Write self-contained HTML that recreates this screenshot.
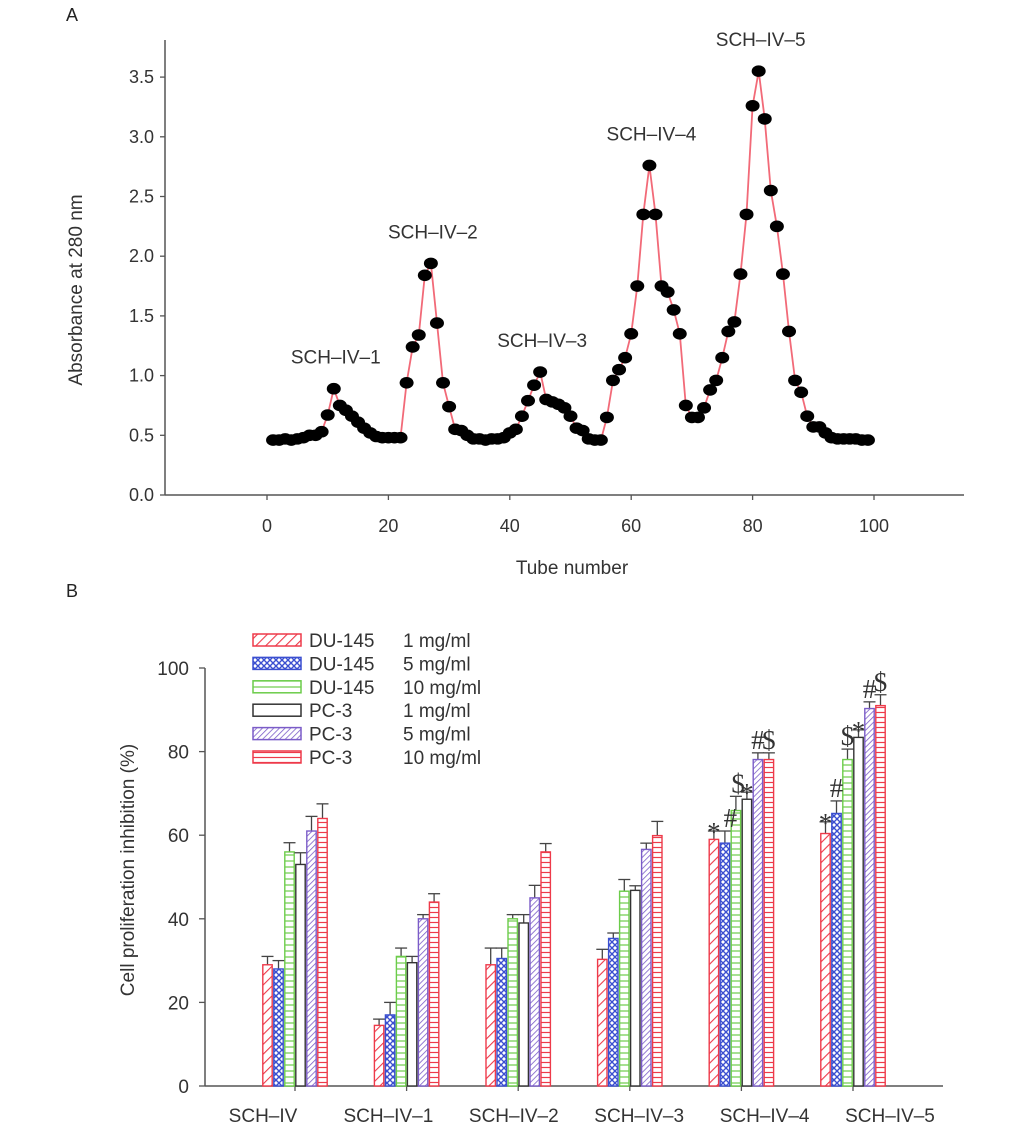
<!DOCTYPE html>
<html><head><meta charset="utf-8">
<style>
html,body{margin:0;padding:0;background:#fff;}
svg{display:block;font-family:"Liberation Sans",Arial,sans-serif;}
</style></head>
<body>
<svg id="fig" width="1033" height="1136" viewBox="0 0 1033 1136" xmlns="http://www.w3.org/2000/svg">
<defs>
<pattern id="p-red-diag" patternUnits="userSpaceOnUse" width="7" height="7" patternTransform="rotate(45)"><rect width="7" height="7" fill="#fff"/><line x1="0" y1="0" x2="0" y2="7" stroke="#ee3a4a" stroke-width="2.2"/></pattern>
<pattern id="p-blue-cross" patternUnits="userSpaceOnUse" width="6" height="6"><rect width="6" height="6" fill="#fff"/><path d="M0 0L6 6M6 0L0 6" stroke="#3a4fd0" stroke-width="1.4"/></pattern>
<pattern id="p-green-h" patternUnits="userSpaceOnUse" width="6" height="6"><rect width="6" height="6" fill="#fff"/><line x1="0" y1="3" x2="6" y2="3" stroke="#6ccc4a" stroke-width="1.2"/></pattern>
<pattern id="p-gray" patternUnits="userSpaceOnUse" width="6" height="6"><rect width="6" height="6" fill="#fff"/></pattern>
<pattern id="p-purple-diag" patternUnits="userSpaceOnUse" width="4" height="4" patternTransform="rotate(45)"><rect width="4" height="4" fill="#fff"/><line x1="0" y1="0" x2="0" y2="4" stroke="#7b5cc8" stroke-width="1.6"/></pattern>
<pattern id="p-red-h" patternUnits="userSpaceOnUse" width="5" height="5"><rect width="5" height="5" fill="#fff"/><line x1="0" y1="2.5" x2="5" y2="2.5" stroke="#ee3a4a" stroke-width="1.2"/></pattern>
</defs>

<text x="66" y="21" font-size="18" fill="#222">A</text>
<text x="66" y="597" font-size="18" fill="#222">B</text>

<g id="chartA"></g>
<g id="chartB"></g>
</svg>

<script>
// ===== Chart A data =====
const tubeValues = [
  .46,.46,.47,.46,.47,.48,.50,.50,.53,
  .67,.89,.75,.71,.66,.61,.56,.52,.49,.48,.48,.48,.48,
  .94,1.24,1.34,1.84,1.94,1.44,.94,.74,.55,.54,.50,.47,.47,.46,.47,.47,
  .48,.52,.55,.66,.79,.92,1.03,.80,.78,.76,.73,.66,.56,.54,.47,.46,.46,
  .65,.96,1.05,1.15,1.35,1.75,2.35,2.76,2.35,1.75,1.70,1.55,1.35,
  .75,.65,.65,.73,.88,.96,1.15,1.37,1.45,
  1.85,2.35,3.26,3.55,3.15,2.55,2.25,1.85,1.37,.96,.86,.66,.57,.57,.52,.48,
  .47,.47,.47,.47,.46,.46
];
const xTicksA = [0,20,40,60,80,100];
const yTicksA = [0.0,0.5,1.0,1.5,2.0,2.5,3.0,3.5];
const peakNames = ["SCH–IV–1","SCH–IV–2","SCH–IV–3","SCH–IV–4","SCH–IV–5"];
const peakTubes = [11,27,45,63,81];

// ===== Chart B data =====
const categories = ["SCH–IV","SCH–IV–1","SCH–IV–2","SCH–IV–3","SCH–IV–4","SCH–IV–5"];
const seriesNames = ["DU-145","DU-145","DU-145","PC-3","PC-3","PC-3"];
const seriesDoses = ["1 mg/ml","5 mg/ml","10 mg/ml","1 mg/ml","5 mg/ml","10 mg/ml"];
const du145_1 = [29,14.5,29,30.3,59,60.4];
const du145_5 = [28,17,30.5,35.3,58.1,65.2];
const du145_10 = [56,31,40,46.6,65.9,78.1];
const pc3_1 = [53,29.5,39,46.8,68.6,83.4];
const pc3_5 = [61,40,45,56.6,78.1,90.3];
const pc3_10 = [64,44,56,59.9,78.1,91];
const du145_1_err = [2,1.5,4,2.4,2,2.8];
const du145_5_err = [2,3,2.5,1.3,2.9,3];
const du145_10_err = [2.2,2,1,2.8,3.4,2.5];
const pc3_1_err = [2.8,1.5,2,1.1,1.7,1.8];
const pc3_5_err = [3.5,1,3,1.5,1.6,1.6];
const pc3_10_err = [3.5,2,2,3.4,1.6,2.6];
const yTicksB = [0,20,40,60,80,100];
const annotations = [
  {cat:4, slot:0, text:"*"},{cat:4, slot:1.5, text:"#"},{cat:4, slot:2.2, text:"$"},{cat:4, slot:3, text:"*"},
  {cat:4, slot:4, text:"#"},{cat:4, slot:5, text:"$"},
  {cat:5, slot:0, text:"*"},{cat:5, slot:1, text:"#"},{cat:5, slot:2, text:"$"},{cat:5, slot:3, text:"*"},
  {cat:5, slot:4, text:"#"},{cat:5, slot:5, text:"$"}
];

const NS = "http://www.w3.org/2000/svg";
function mk(tag, attrs, parent){ const e=document.createElementNS(NS,tag); for(const k in attrs) e.setAttribute(k,attrs[k]); parent.appendChild(e); return e; }

// ----- Chart A -----
(function(){
  const g = document.getElementById('chartA');
  const xA = v => 267 + v*6.07;
  const yA = v => 495 - v*119.4;
  let e;
  e = mk('line',{x1:165,y1:yA(0),x2:964,y2:yA(0),stroke:'#555','stroke-width':1.5},g);
   
  e = mk('line',{x1:165,y1:40,x2:165,y2:yA(0),stroke:'#555','stroke-width':1.5},g);
   
  xTicksA.forEach(t=>{
    mk('line',{x1:xA(t),y1:yA(0),x2:xA(t),y2:yA(0)+5,stroke:'#555','stroke-width':1.3},g);
    const tx = mk('text',{x:xA(t),y:532,'font-size':18,'text-anchor':'middle',fill:'#333'},g);
    tx.textContent = t;
     
  });
  yTicksA.forEach(t=>{
    mk('line',{x1:160,y1:yA(t),x2:165,y2:yA(t),stroke:'#555','stroke-width':1.3},g);
    const tx = mk('text',{x:154,y:yA(t)+6,'font-size':18,'text-anchor':'end',fill:'#333'},g);
    tx.textContent = t.toFixed(1);
     
  });
  e = mk('text',{x:572,y:574,'font-size':19,'text-anchor':'middle',fill:'#333'},g);
  e.textContent='Tube number';
   
  e = mk('text',{x:0,y:0,'font-size':19,'text-anchor':'middle',fill:'#333',transform:'translate(82,290) rotate(-90)'},g);
  e.textContent='Absorbance at 280 nm';
   
  const pts = tubeValues.map((v,i)=>xA(i+1).toFixed(1)+','+yA(v).toFixed(1)).join(' ');
  e = mk('polyline',{points:pts,fill:'none',stroke:'#f26a78','stroke-width':1.8},g);
   
  tubeValues.forEach((v,i)=>{
    const d = mk('ellipse',{cx:xA(i+1),cy:yA(v),rx:7,ry:5.8,fill:'#000'},g);
     
  });
  peakNames.forEach((n,i)=>{
    const v = tubeValues[peakTubes[i]-1];
    const tx = mk('text',{x:xA(peakTubes[i])+2,y:yA(v)-25,'font-size':19,'text-anchor':'middle',fill:'#333'},g);
    tx.textContent = n;
     
  });
})();

// ----- Chart B -----
(function(){
  const g = document.getElementById('chartB');
  const yB = v => 1086 - v*4.18;
  const catX = i => 295 + i*111.6;
  const labelX = i => 263 + i*125.4;
  const bw = 11;
  const series = [du145_1,du145_5,du145_10,pc3_1,pc3_5,pc3_10];
  const errs = [du145_1_err,du145_5_err,du145_10_err,pc3_1_err,pc3_5_err,pc3_10_err];
  const fills = ['p-red-diag','p-blue-cross','p-green-h','p-gray','p-purple-diag','p-red-h'];
  const strokes = ['#ee3a4a','#3a4fd0','#6ccc4a','#333','#7b5cc8','#ee3a4a'];
  const barX = (c,s) => catX(c) - 3*bw + s*bw;
  let e;
  e = mk('line',{x1:205,y1:yB(0),x2:943,y2:yB(0),stroke:'#555','stroke-width':1.5},g);
   
  e = mk('line',{x1:205,y1:yB(100),x2:205,y2:yB(0),stroke:'#555','stroke-width':1.5},g);
   
  yTicksB.forEach(t=>{
    mk('line',{x1:199,y1:yB(t),x2:205,y2:yB(t),stroke:'#555','stroke-width':1.3},g);
    const tx = mk('text',{x:189,y:yB(t)+7,'font-size':19,'text-anchor':'end',fill:'#333'},g);
    tx.textContent = t;
     
  });
  categories.forEach((c,i)=>{
    mk('line',{x1:catX(i),y1:yB(0),x2:catX(i),y2:yB(0)+5,stroke:'#555','stroke-width':1.3},g);
    const tx = mk('text',{x:labelX(i),y:1122,'font-size':19,'text-anchor':'middle',fill:'#333'},g);
    tx.textContent = c;
     
  });
  e = mk('text',{x:0,y:0,'font-size':19,'text-anchor':'middle',fill:'#333',transform:'translate(134,870) rotate(-90)'},g);
  e.textContent='Cell proliferation inhibition (%)';
   
  series.forEach((vals,s)=>{
    vals.forEach((v,c)=>{
      const x = barX(c,s);
      const top = yB(v+errs[s][c]);
      mk('line',{x1:x+bw/2,y1:yB(v),x2:x+bw/2,y2:top,stroke:'#444','stroke-width':1.3},g);
      mk('line',{x1:x+bw/2-6,y1:top,x2:x+bw/2+6,y2:top,stroke:'#444','stroke-width':1.3},g);
      const r = mk('rect',{x:x+0.8,y:yB(v),width:bw-1.6,height:yB(0)-yB(v),fill:'url(#'+fills[s]+')',stroke:strokes[s],'stroke-width':1.4},g);
      
      
    });
  });
  annotations.forEach(a=>{
    const s = Math.floor(a.slot);
    const cap = yB(series[s][a.cat] + errs[s][a.cat]);
    const dy = a.text === "*" ? 10 : -4;
    const tx = mk('text',{x:barX(a.cat,0)+a.slot*bw+bw/2,y:cap+dy,'font-size':27,'text-anchor':'middle',fill:'#333','font-family':'"Liberation Serif",serif'},g);
    tx.textContent = a.text;
     
  });
  // legend
  seriesNames.forEach((n,i)=>{
    const cy = 640 + i*23.4;
    const sw = mk('rect',{x:253,y:cy-6,width:48,height:12,fill:'url(#'+fills[i]+')',stroke:strokes[i],'stroke-width':1.5},g);
     
    const t1 = mk('text',{x:309,y:cy+7,'font-size':19,fill:'#333'},g);
    t1.textContent = n;
     
    const t2 = mk('text',{x:403,y:cy+7,'font-size':19,fill:'#333'},g);
    t2.textContent = seriesDoses[i];
     
  });
})();
</script>
</body></html>
